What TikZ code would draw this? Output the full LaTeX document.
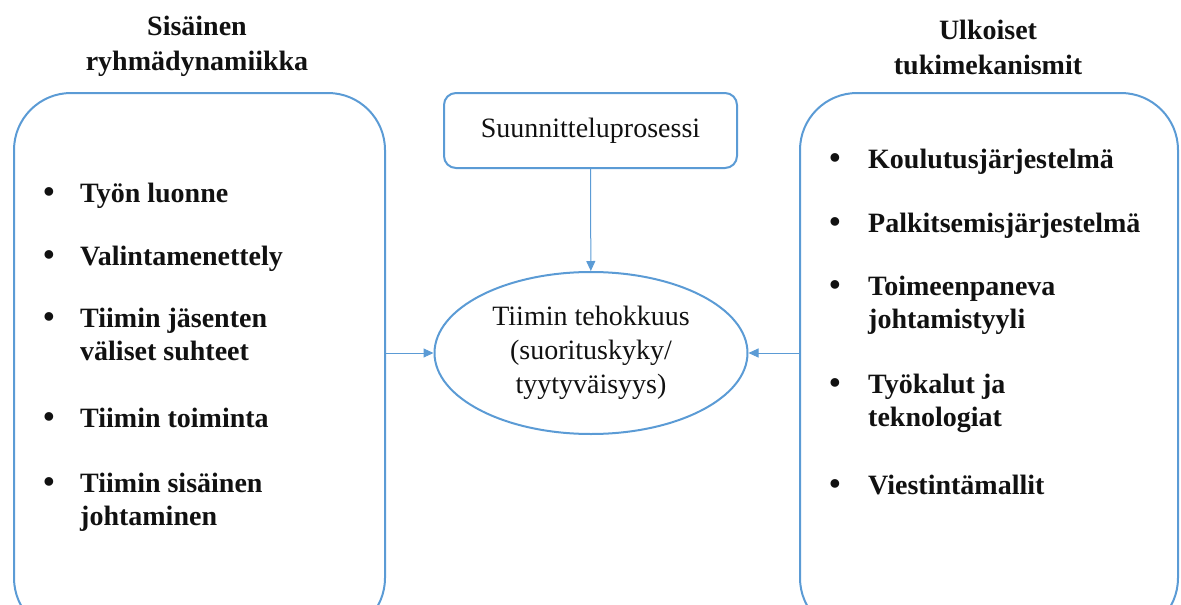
\documentclass[tikz,border=0pt]{standalone}
\usepackage{fontspec}
\setmainfont{Liberation Serif}
\usetikzlibrary{arrows.meta,positioning,shapes.geometric}
\definecolor{tblue}{RGB}{91,155,213}
\definecolor{tink}{RGB}{17,17,17}
\tikzset{
  bigbox/.style={draw=tblue, line width=2pt, rounded corners=57pt, minimum height=542pt, inner sep=0pt},
  procbox/.style={draw=tblue, line width=2pt, rounded corners=12pt, minimum width=293pt, minimum height=75pt, font=\fontsize{28}{33}\selectfont, text=tink},
  goal/.style={ellipse, draw=tblue, line width=2pt, minimum width=313pt, minimum height=162pt, inner sep=0pt, align=center, font=\fontsize{28}{34}\selectfont, text=tink},
  hd/.style={align=center, inner sep=0pt, font=\fontsize{28}{35}\selectfont\bfseries, text=tink},
  itm/.style={anchor=base west, inner sep=0pt, align=left, font=\fontsize{28}{33}\selectfont\bfseries, text=tink},
  bul/.style={anchor=base, inner sep=0pt, font=\fontsize{32}{33}\selectfont\bfseries, text=tink},
  arr/.style={-{Triangle[length=10pt,width=9pt]}, tblue, line width=1pt},
}
\begin{document}
\begin{tikzpicture}[x=1pt, y=-1pt]
\path[use as bounding box, clip] (0,0) rectangle (1181,605);
% headings
\node[hd] (hleft) at (197,46) {Sisäinen\\ryhmädynamiikka};
\node[hd] (hright) at (988,47) {Ulkoiset\\tukimekanismit};
% boxes
\node[bigbox, minimum width=371pt] (lbox) at (199.5,364) {};
\node[bigbox, minimum width=378pt] (rbox) at (989,364) {};
\node[procbox] (plan) at (590.5,130.5) {Suunnitteluprosessi};
\node[goal] (eff) at (591,353) {Tiimin tehokkuus\\(suorituskyky/\\tyytyväisyys)};
% left list (base = last line)
\node[itm] (l1) at (80,202) {Työn luonne};
\node[itm] (l2) at (80,265) {Valintamenettely};
\node[itm] (l3) at (80,360) {Tiimin jäsenten\\väliset suhteet};
\node[itm] (l4) at (80,427) {Tiimin toiminta};
\node[itm] (l5) at (80,525) {Tiimin sisäinen\\johtaminen};
\foreach \yy in {202,265,327,427,492}
  \node[bul] at (49,\yy) {•};
% right list
\node[itm] (r1) at (868,168) {Koulutusjärjestelmä};
\node[itm] (r2) at (868,232) {Palkitsemisjärjestelmä};
\node[itm] (r3) at (868,328) {Toimeenpaneva\\johtamistyyli};
\node[itm] (r4) at (868,426) {Työkalut ja\\teknologiat};
\node[itm] (r5) at (868,494) {Viestintämallit};
\foreach \yy in {168,232,295,393,494}
  \node[bul] at (835,\yy) {•};
% arrows
\draw[arr] (plan) -- (eff);
\draw[arr] (lbox.east |- eff.west) -- (eff.west);
\draw[arr] (rbox.west |- eff.east) -- (eff.east);
\end{tikzpicture}
\end{document}
